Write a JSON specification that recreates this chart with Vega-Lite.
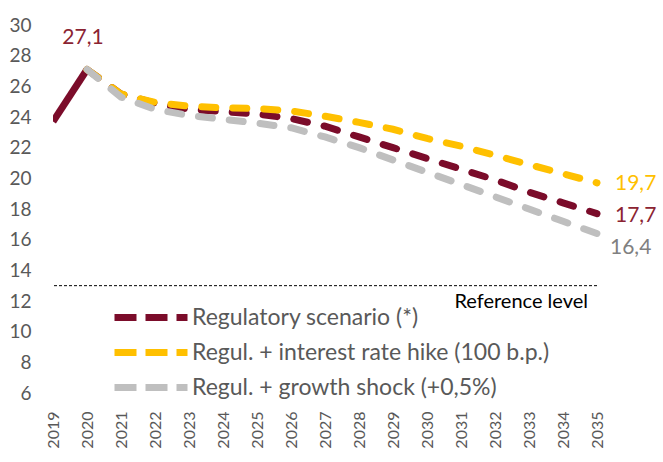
{
  "$schema": "https://vega.github.io/schema/vega-lite/v6.json",
  "width": 544,
  "height": 368,
  "autosize": {"type": "none"},
  "padding": {"left": 53, "top": 25, "right": 66, "bottom": 69},
  "background": "white",
  "config": {
    "view": {"stroke": null},
    "font": "Lato",
    "axis": {"grid": false, "domain": false, "ticks": false, "title": null, "labelFont": "Lato", "labelColor": "#595959"}
  },
  "datasets": {
    "series": [
      {"year": "2019", "scenario": "Regulatory scenario (*)", "phase": "hist", "value": 23.7},
      {"year": "2020", "scenario": "Regulatory scenario (*)", "phase": "hist", "value": 27.1},
      {"year": "2020", "scenario": "Regulatory scenario (*)", "phase": "proj", "value": 27.1},
      {"year": "2021", "scenario": "Regulatory scenario (*)", "phase": "proj", "value": 25.5},
      {"year": "2022", "scenario": "Regulatory scenario (*)", "phase": "proj", "value": 24.9},
      {"year": "2023", "scenario": "Regulatory scenario (*)", "phase": "proj", "value": 24.5},
      {"year": "2024", "scenario": "Regulatory scenario (*)", "phase": "proj", "value": 24.35},
      {"year": "2025", "scenario": "Regulatory scenario (*)", "phase": "proj", "value": 24.2},
      {"year": "2026", "scenario": "Regulatory scenario (*)", "phase": "proj", "value": 23.9},
      {"year": "2027", "scenario": "Regulatory scenario (*)", "phase": "proj", "value": 23.4},
      {"year": "2028", "scenario": "Regulatory scenario (*)", "phase": "proj", "value": 22.7},
      {"year": "2029", "scenario": "Regulatory scenario (*)", "phase": "proj", "value": 22.0},
      {"year": "2030", "scenario": "Regulatory scenario (*)", "phase": "proj", "value": 21.3},
      {"year": "2031", "scenario": "Regulatory scenario (*)", "phase": "proj", "value": 20.6},
      {"year": "2032", "scenario": "Regulatory scenario (*)", "phase": "proj", "value": 19.9},
      {"year": "2033", "scenario": "Regulatory scenario (*)", "phase": "proj", "value": 19.1},
      {"year": "2034", "scenario": "Regulatory scenario (*)", "phase": "proj", "value": 18.4},
      {"year": "2035", "scenario": "Regulatory scenario (*)", "phase": "proj", "value": 17.7},
      {"year": "2020", "scenario": "Regul. + interest rate hike (100 b.p.)", "phase": "proj", "value": 27.1},
      {"year": "2021", "scenario": "Regul. + interest rate hike (100 b.p.)", "phase": "proj", "value": 25.5},
      {"year": "2022", "scenario": "Regul. + interest rate hike (100 b.p.)", "phase": "proj", "value": 24.95},
      {"year": "2023", "scenario": "Regul. + interest rate hike (100 b.p.)", "phase": "proj", "value": 24.7},
      {"year": "2024", "scenario": "Regul. + interest rate hike (100 b.p.)", "phase": "proj", "value": 24.6},
      {"year": "2025", "scenario": "Regul. + interest rate hike (100 b.p.)", "phase": "proj", "value": 24.55},
      {"year": "2026", "scenario": "Regul. + interest rate hike (100 b.p.)", "phase": "proj", "value": 24.4},
      {"year": "2027", "scenario": "Regul. + interest rate hike (100 b.p.)", "phase": "proj", "value": 24.05},
      {"year": "2028", "scenario": "Regul. + interest rate hike (100 b.p.)", "phase": "proj", "value": 23.65},
      {"year": "2029", "scenario": "Regul. + interest rate hike (100 b.p.)", "phase": "proj", "value": 23.2},
      {"year": "2030", "scenario": "Regul. + interest rate hike (100 b.p.)", "phase": "proj", "value": 22.6},
      {"year": "2031", "scenario": "Regul. + interest rate hike (100 b.p.)", "phase": "proj", "value": 22.1},
      {"year": "2032", "scenario": "Regul. + interest rate hike (100 b.p.)", "phase": "proj", "value": 21.5},
      {"year": "2033", "scenario": "Regul. + interest rate hike (100 b.p.)", "phase": "proj", "value": 20.9},
      {"year": "2034", "scenario": "Regul. + interest rate hike (100 b.p.)", "phase": "proj", "value": 20.3},
      {"year": "2035", "scenario": "Regul. + interest rate hike (100 b.p.)", "phase": "proj", "value": 19.7},
      {"year": "2020", "scenario": "Regul. + growth shock (+0,5%)", "phase": "proj", "value": 27.1},
      {"year": "2021", "scenario": "Regul. + growth shock (+0,5%)", "phase": "proj", "value": 25.3},
      {"year": "2022", "scenario": "Regul. + growth shock (+0,5%)", "phase": "proj", "value": 24.5},
      {"year": "2023", "scenario": "Regul. + growth shock (+0,5%)", "phase": "proj", "value": 24.1},
      {"year": "2024", "scenario": "Regul. + growth shock (+0,5%)", "phase": "proj", "value": 23.85},
      {"year": "2025", "scenario": "Regul. + growth shock (+0,5%)", "phase": "proj", "value": 23.6},
      {"year": "2026", "scenario": "Regul. + growth shock (+0,5%)", "phase": "proj", "value": 23.3},
      {"year": "2027", "scenario": "Regul. + growth shock (+0,5%)", "phase": "proj", "value": 22.7},
      {"year": "2028", "scenario": "Regul. + growth shock (+0,5%)", "phase": "proj", "value": 22.0},
      {"year": "2029", "scenario": "Regul. + growth shock (+0,5%)", "phase": "proj", "value": 21.2},
      {"year": "2030", "scenario": "Regul. + growth shock (+0,5%)", "phase": "proj", "value": 20.4},
      {"year": "2031", "scenario": "Regul. + growth shock (+0,5%)", "phase": "proj", "value": 19.6},
      {"year": "2032", "scenario": "Regul. + growth shock (+0,5%)", "phase": "proj", "value": 18.8},
      {"year": "2033", "scenario": "Regul. + growth shock (+0,5%)", "phase": "proj", "value": 18.0},
      {"year": "2034", "scenario": "Regul. + growth shock (+0,5%)", "phase": "proj", "value": 17.2},
      {"year": "2035", "scenario": "Regul. + growth shock (+0,5%)", "phase": "proj", "value": 16.4}
    ],
    "labels": [
      {"year": "2020", "value": 27.1, "label": "27,1", "kind": "peak"},
      {"year": "2035", "value": 19.7, "label": "19,7", "kind": "hike"},
      {"year": "2035", "value": 17.7, "label": "17,7", "kind": "reg"},
      {"year": "2035", "value": 16.4, "label": "16,4", "kind": "growth"}
    ],
    "reference": [
      {"year": "2035", "value": 13, "label": "Reference level"}
    ]
  },
  "encoding": {
    "x": {
      "field": "year", "type": "ordinal",
      "scale": {"type": "point", "padding": 0},
      "axis": {"labelAngle": -90, "labelFontSize": 16, "labelPadding": 18}
    },
    "y": {
      "field": "value", "type": "quantitative",
      "scale": {"domain": [6, 30], "nice": false, "zero": false},
      "axis": {"values": [6, 8, 10, 12, 14, 16, 18, 20, 22, 24, 26, 28, 30], "labelFontSize": 19, "labelPadding": 22}
    }
  },
  "layer": [
    {
      "data": {"name": "reference"},
      "mark": {"type": "rule", "color": "#000000", "strokeWidth": 1, "strokeDash": [3, 2]},
      "encoding": {"x": null, "y": {"field": "value", "type": "quantitative"}}
    },
    {
      "data": {"name": "reference"},
      "mark": {"type": "text", "align": "right", "baseline": "middle", "dy": 16, "dx": -9, "fontSize": 20, "color": "#000000", "font": "Lato"},
      "encoding": {"text": {"field": "label"}}
    },
    {
      "data": {"name": "series"},
      "transform": [{"filter": "datum.phase === 'hist'"}],
      "mark": {"type": "line", "strokeWidth": 7, "strokeCap": "butt", "color": "#7B0C2A", "clip": true},
      "encoding": {}
    },
    {
      "data": {"name": "series"},
      "transform": [{"filter": "datum.phase === 'proj'"}],
      "mark": {"type": "line", "strokeWidth": 7, "strokeCap": "round", "strokeDash": [14, 17]},
      "encoding": {
        "color": {
          "field": "scenario", "type": "nominal",
          "scale": {
            "domain": ["Regulatory scenario (*)", "Regul. + interest rate hike (100 b.p.)", "Regul. + growth shock (+0,5%)"],
            "range": ["#7B0C2A", "#FFC000", "#BFBFBF"]
          },
          "legend": {
            "title": null, "orient": "none", "legendX": 118, "legendY": 281, "padding": 0,
            "symbolType": "M-13.6,0H1", "symbolSize": 100, "symbolStrokeWidth": 7, "symbolDash": [22, 9],
            "labelFontSize": 23, "labelColor": "#595959", "labelFont": "Lato", "labelOffset": -2, "rowPadding": 6, "labelLimit": 500
          }
        },
        "order": {"field": "scenario", "sort": "descending"}
      }
    },
    {
      "data": {"name": "labels"},
      "transform": [{"filter": "datum.kind === 'peak'"}],
      "mark": {"type": "text", "fontSize": 21, "color": "#8B2332", "dx": -4, "dy": -31},
      "encoding": {"text": {"field": "label"}}
    },
    {
      "data": {"name": "labels"},
      "transform": [{"filter": "datum.kind === 'hike'"}],
      "mark": {"type": "text", "fontSize": 21, "color": "#FFC000", "align": "left", "dx": 18, "dy": 1},
      "encoding": {"text": {"field": "label"}}
    },
    {
      "data": {"name": "labels"},
      "transform": [{"filter": "datum.kind === 'reg'"}],
      "mark": {"type": "text", "fontSize": 21, "color": "#8B2332", "align": "left", "dx": 18, "dy": 2},
      "encoding": {"text": {"field": "label"}}
    },
    {
      "data": {"name": "labels"},
      "transform": [{"filter": "datum.kind === 'growth'"}],
      "mark": {"type": "text", "fontSize": 21, "color": "#808080", "align": "left", "dx": 13, "dy": 14},
      "encoding": {"text": {"field": "label"}}
    }
  ]
}
